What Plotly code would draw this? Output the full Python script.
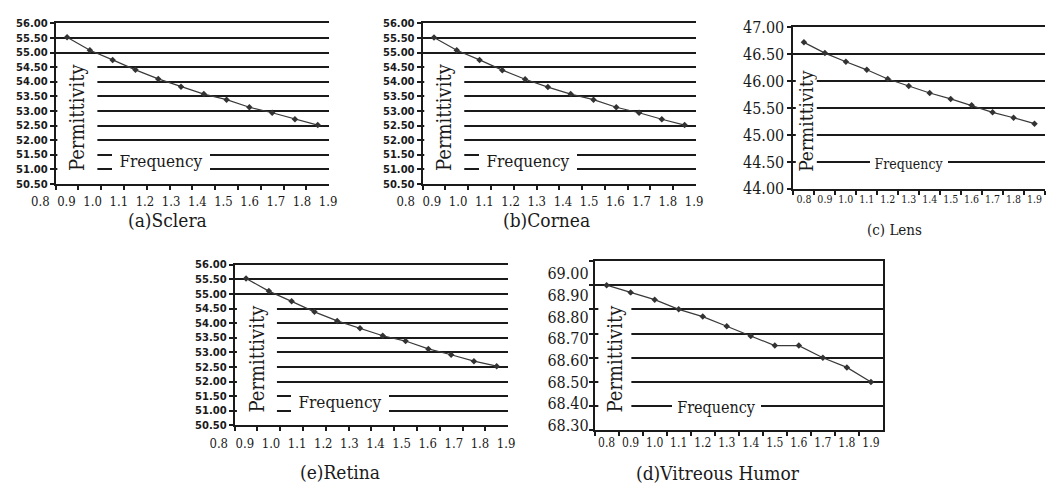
import plotly.graph_objects as go

# ---------------- data ----------------
freq_labels = ["0.8", "0.9", "1.0", "1.1", "1.2", "1.3", "1.4", "1.5", "1.6", "1.7", "1.8", "1.9"]

sclera = [55.53, 55.08, 54.75, 54.41, 54.10, 53.83, 53.58, 53.39, 53.13, 52.94, 52.72, 52.52]
cornea = [55.52, 55.08, 54.75, 54.40, 54.09, 53.82, 53.58, 53.39, 53.13, 52.94, 52.72, 52.52]
retina = [55.53, 55.10, 54.75, 54.39, 54.08, 53.83, 53.57, 53.39, 53.12, 52.92, 52.70, 52.53]
lens = [46.72, 46.52, 46.36, 46.21, 46.04, 45.91, 45.78, 45.67, 45.55, 45.42, 45.32, 45.21]
vitreous = [68.90, 68.87, 68.84, 68.80, 68.77, 68.73, 68.69, 68.65, 68.65, 68.60, 68.56, 68.50]

eye_ticks = ["50.50", "51.00", "51.50", "52.00", "52.50", "53.00", "53.50",
             "54.00", "54.50", "55.00", "55.50", "56.00"]
lens_ticks = ["44.00", "44.50", "45.00", "45.50", "46.00", "46.50", "47.00"]
vit_ticks = ["68.30", "68.40", "68.50", "68.60", "68.70", "68.80", "68.90", "69.00"]

captions = ["(a)Sclera", "(b)Cornea", "(c) Lens", "(e)Retina", "(d)Vitreous Humor"]

# ---------------- geometry helpers ----------------
W, H = 1048, 497
def px(x):
    return x / W
def py(y):
    return 1 - y / H

SERIF = "DejaVu Serif Condensed, DejaVu Serif"
INK = "#1a1a1a"

fig = go.Figure()

panels = [
    ("", sclera, eye_ticks, (53, 328), (15, 182), False, False, 13),
    ("2", cornea, eye_ticks, (422, 697), (15, 182), False, False, 13),
    ("3", lens, lens_ticks, (795, 1048), (19, 187), False, True, 10.5),
    ("4", retina, eye_ticks, (233, 508), (266, 433), False, False, 13),
    ("5", vitreous, vit_ticks, (595, 885), (262, 438), True, True, 12),
]

layout = dict(
    width=W, height=H, margin=dict(l=0, r=0, t=0, b=0),
    paper_bgcolor="white", plot_bgcolor="white", showlegend=False,
    font=dict(family=SERIF, color=INK),
)

for aid, series, yt, (x0, x1), (y0, y1), mir_y, show_xl, xfs in panels:
    fig.add_trace(go.Scatter(
        x=freq_labels, y=series, mode="lines+markers",
        xaxis="x" + aid, yaxis="y" + aid,
        line=dict(color="#3a3a3a", width=1.2),
        marker=dict(symbol="diamond", size=5, color="#333333"),
        hoverinfo="skip",
    ))
    yvals = [float(v) for v in yt]
    small = yt is eye_ticks
    layout["xaxis" + aid] = dict(
        domain=[px(x0), px(x1)], anchor="y" + aid, type="category",
        range=[-0.5, len(freq_labels) - 0.5], tickson="boundaries",
        ticks="outside", ticklen=4, tickwidth=1.5, tickcolor=INK,
        showline=True, linewidth=2, linecolor=INK, mirror=True,
        showgrid=False, zeroline=False, tickangle=0,
        showticklabels=show_xl, tickfont=dict(family=SERIF, size=xfs, color=INK),
    )
    layout["yaxis" + aid] = dict(
        domain=[py(y1), py(y0)], anchor="x" + aid,
        range=[yvals[0], yvals[-1]], tickvals=yvals, ticktext=yt,
        ticks="outside", ticklen=4, tickwidth=1.5, tickcolor=INK,
        showline=True, linewidth=2, linecolor=INK, mirror=mir_y,
        showgrid=True, gridcolor=INK, gridwidth=1.6, zeroline=False,
        showticklabels=(aid != "5"),
        tickfont=(dict(family="DejaVu Sans", size=10, color=INK, weight="bold") if small
                  else dict(family=SERIF, size=16, color=INK)),
    )

freq_vals = [float(f) for f in freq_labels]
label_rows = [("6", 37.5, 327, 190), ("7", 405, 695, 190), ("8", 217, 506, 442)]
for aid, first, last, ypos in label_rows:
    step = (last - first) / (len(freq_vals) - 1)
    pad = 6
    lo = freq_vals[0] - pad / step * 0.1
    hi = freq_vals[-1] + pad / step * 0.1
    fig.add_trace(go.Scatter(x=[], y=[], xaxis="x" + aid, yaxis="y" + aid,
                             hoverinfo="skip", showlegend=False))
    layout["xaxis" + aid] = dict(
        domain=[px(first - pad), px(last + pad)], anchor="y" + aid, type="linear",
        range=[lo, hi], tickvals=freq_vals, ticktext=freq_labels, ticks="",
        showline=False, showgrid=False, zeroline=False, tickangle=0,
        tickfont=dict(family=SERIF, size=13, color=INK),
    )
    layout["yaxis" + aid] = dict(domain=[py(ypos), py(ypos - 3)], anchor="x" + aid,
                                 visible=False, range=[0, 1])

vit_vals = [float(v) for v in vit_ticks]
fig.add_trace(go.Scatter(x=[], y=[], xaxis="x9", yaxis="y9",
                         hoverinfo="skip", showlegend=False))
layout["yaxis9"] = dict(
    domain=[py(433), py(275)], anchor="x9", range=[vit_vals[0], vit_vals[-1]],
    tickvals=vit_vals, ticktext=vit_ticks, ticks="", showline=False, showgrid=False,
    zeroline=False, tickfont=dict(family=SERIF, size=16, color=INK),
)
layout["xaxis9"] = dict(domain=[px(590), px(594)], anchor="y9", visible=False, range=[0, 1])

fig.update_layout(**layout)

def box(text, cx, cy, w, h, size, angle=0):
    fig.add_annotation(
        text=text, x=px(cx), y=py(cy), xref="paper", yref="paper",
        xanchor="center", yanchor="middle", showarrow=False,
        width=w, height=h, textangle=angle, bgcolor="white",
        borderpad=0, borderwidth=0,
        font=dict(family=SERIF, size=size, color=INK),
    )

for dx, dy in [(0, 0), (369, 0), (180, 251)]:
    box("Permittivity", 75 + dx, 112.5 + dy, 111, 40, 20, -90)
    box("Frequency", 159 + dx, 158 + dy, 98, 24, 17)

box("Permittivity", 808, 116, 112, 21, 19, -90)
box("Frequency", 911, 161, 78, 22, 14)
box("Permittivity", 615, 363, 126, 33, 20, -90)
box("Frequency", 717.5, 414, 89, 24, 16)

cap_pos = [(165, 219, 19), (547, 219, 19), (897, 230, 15), (339, 481, 19), (719, 482, 19)]
for text, (cx, cy, sz) in zip(captions, cap_pos):
    fig.add_annotation(text=text, x=px(cx), y=py(cy), xref="paper", yref="paper",
                       xanchor="center", yanchor="middle", showarrow=False,
                       font=dict(family=SERIF, size=sz, color=INK))

fig.write_html("out.html")
